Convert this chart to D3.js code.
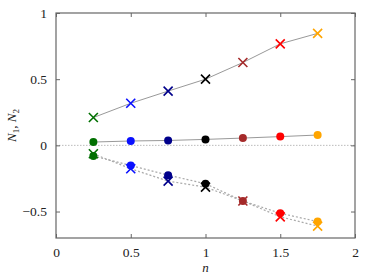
<!DOCTYPE html>
<html>
<head>
<meta charset="utf-8">
<script src="https://cdn.jsdelivr.net/npm/d3@7"></script>
<style>
  body { margin: 0; background: #fff; }
  text { font-family: "Liberation Serif", "DejaVu Serif", serif; }
</style>
</head>
<body>
<div class="chart"></div>
<script>
var svgWidth = 374;
var svgHeight = 280;

var margin = { top: 13, right: 19, bottom: 42, left: 56 };
var width = svgWidth - margin.left - margin.right;
var height = svgHeight - margin.top - margin.bottom;

// data
var nValues = [0.25, 0.5, 0.75, 1.0, 1.25, 1.5, 1.75];
var pointColors = ["#007000", "#0a10ff", "#00008b", "#000000", "#a52a2a", "#ff0000", "#ffa500"];
var upperCross = [0.21, 0.318, 0.41, 0.5, 0.626, 0.767, 0.846];
var upperCircle = [0.025, 0.033, 0.037, 0.045, 0.055, 0.066, 0.078];
var lowerCircle = [-0.081, -0.152, -0.225, -0.29, -0.42, -0.513, -0.576];
var lowerCross = [-0.063, -0.177, -0.27, -0.316, -0.42, -0.54, -0.61];
var xTicks = [0, 0.5, 1, 1.5, 2];
var yTicks = [-0.5, 0, 0.5, 1];

var svg = d3.select(".chart")
  .append("svg")
  .attr("width", svgWidth)
  .attr("height", svgHeight);

var chartGroup = svg.append("g")
  .attr("transform", `translate(${margin.left}, ${margin.top})`);

var x = d3.scaleLinear().domain([0, 2]).range([0, width]);
var y = d3.scaleLinear().domain([-0.7, 1]).range([height, 0]);

// zero line
chartGroup.append("line")
  .attr("x1", 0).attr("x2", width)
  .attr("y1", y(0)).attr("y2", y(0))
  .attr("stroke", "#aaa")
  .attr("stroke-width", 0.8)
  .attr("stroke-dasharray", "1.5,1.5");

var line = d3.line()
  .x(d => x(d[0]))
  .y(d => y(d[1]));

function series(vals) {
  return nValues.map((n, i) => [n, vals[i]]);
}

// solid lines
[upperCross, upperCircle].forEach(function(vals) {
  chartGroup.append("path")
    .attr("d", line(series(vals)))
    .attr("fill", "none")
    .attr("stroke", "#999")
    .attr("stroke-width", 1);
});

// dotted lines
[lowerCircle, lowerCross].forEach(function(vals) {
  chartGroup.append("path")
    .attr("d", line(series(vals)))
    .attr("fill", "none")
    .attr("stroke", "#aaa")
    .attr("stroke-width", 1.2)
    .attr("stroke-dasharray", "2,2");
});

function drawCircles(vals) {
  chartGroup.append("g").selectAll("circle")
    .data(series(vals))
    .enter()
    .append("circle")
    .attr("cx", d => x(d[0]))
    .attr("cy", d => y(d[1]))
    .attr("r", 4)
    .attr("fill", (d, i) => pointColors[i]);
}

function drawCrosses(vals) {
  var s = 4.5;
  chartGroup.append("g").selectAll("path")
    .data(series(vals))
    .enter()
    .append("path")
    .attr("d", d => {
      var cx = x(d[0]), cy = y(d[1]);
      return `M${cx - s},${cy - s}L${cx + s},${cy + s}M${cx - s},${cy + s}L${cx + s},${cy - s}`;
    })
    .attr("stroke", (d, i) => pointColors[i])
    .attr("stroke-width", 1.6)
    .attr("fill", "none");
}

drawCircles(upperCircle);
drawCircles(lowerCircle);
drawCrosses(upperCross);
drawCrosses(lowerCross);

// frame
chartGroup.append("rect")
  .attr("width", width)
  .attr("height", height)
  .attr("fill", "none")
  .attr("stroke", "#666")
  .attr("stroke-width", 1.2);

// axes, ticks pointing inward
var bottomAxis = d3.axisBottom(x).tickValues(xTicks).tickSize(-4).tickPadding(9)
  .tickFormat(d => String(d));
var leftAxis = d3.axisLeft(y).tickValues(yTicks).tickSize(-4).tickPadding(9)
  .tickFormat(d => d < 0 ? "\u2212" + Math.abs(d) : String(d));
var topAxis = d3.axisTop(x).tickValues(xTicks).tickSize(-4).tickFormat("");
var rightAxis = d3.axisRight(y).tickValues(yTicks).tickSize(-4).tickFormat("");

function styleAxis(g) {
  g.select(".domain").remove();
  g.selectAll(".tick line").attr("stroke", "#666");
  g.selectAll(".tick text")
    .attr("font-size", 13.5)
    .attr("fill", "#222")
    .style("font-family", "'Liberation Serif', serif");
}

chartGroup.append("g")
  .attr("transform", `translate(0, ${height})`)
  .call(bottomAxis).call(styleAxis);
chartGroup.append("g").call(leftAxis).call(styleAxis);
chartGroup.append("g").call(topAxis).call(styleAxis);
chartGroup.append("g")
  .attr("transform", `translate(${width}, 0)`)
  .call(rightAxis).call(styleAxis);

// axis labels
var yLabel = chartGroup.append("text")
  .attr("transform", `translate(${-40}, ${height / 2}) rotate(-90)`)
  .attr("text-anchor", "middle")
  .attr("font-size", 13)
  .attr("font-style", "italic")
  .attr("fill", "#222");
yLabel.append("tspan").text("N");
yLabel.append("tspan").attr("font-size", 9).attr("dy", 3).attr("font-style", "normal").text("1");
yLabel.append("tspan").attr("dy", -3).attr("font-style", "normal").text(", ");
yLabel.append("tspan").text("N");
yLabel.append("tspan").attr("font-size", 9).attr("dy", 3).attr("font-style", "normal").text("2");

chartGroup.append("text")
  .attr("x", width / 2)
  .attr("y", height + 34)
  .attr("text-anchor", "middle")
  .attr("font-size", 13)
  .attr("font-style", "italic")
  .attr("fill", "#222")
  .text("n");
</script>
</body>
</html>
